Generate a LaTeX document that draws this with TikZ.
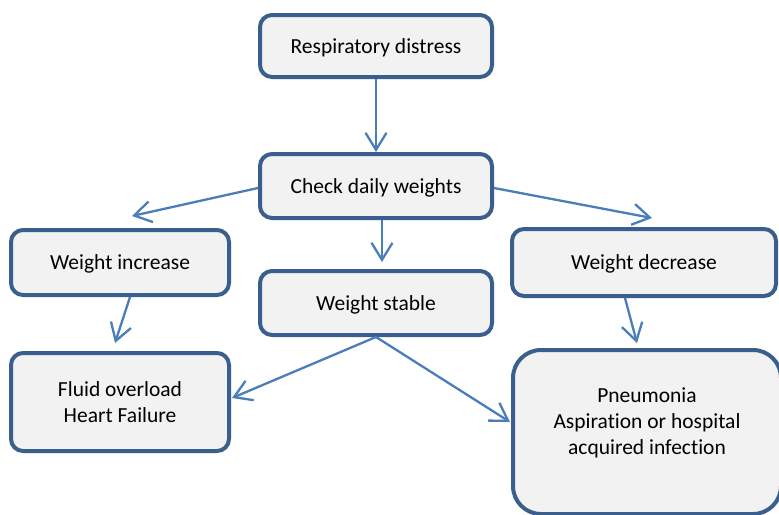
\documentclass[tikz,border=0pt]{standalone}
\usepackage{fontspec}
\setmainfont{Carlito}[Ligatures=NoCommon]
\usetikzlibrary{arrows.meta}
\definecolor{boxline}{HTML}{3A5F8E}
\definecolor{boxfill}{HTML}{F2F2F2}
\definecolor{arrowc}{HTML}{4A7EBB}
\begin{document}
\begin{tikzpicture}[x=1pt,y=-1pt,
  flowbox/.style={draw=boxline, fill=boxfill, line width=4pt, rounded corners=12pt,
    inner sep=0pt, align=center, font=\fontsize{21.5}{26}\selectfont},
  onebox/.style={flowbox, text depth=0pt},
  flowarrow/.style={draw=arrowc, line width=2.3pt, -{Straight Barb[length=17pt,width=21pt,line width=2.3pt]}},
  lbl/.style={inner sep=0pt, align=center, font=\fontsize{21.5}{26}\selectfont}]
\clip (0,0) rectangle (779,514);
\useasboundingbox (0,0) rectangle (779,514);
\fill[white] (0,0) rectangle (779,514);
\node[onebox, minimum width=232pt, minimum height=62pt] (R) at (376,46) {Respiratory distress};
\node[onebox, minimum width=232pt, minimum height=64pt] (C) at (376,186) {Check daily weights};
\node[onebox, minimum width=218pt, minimum height=65pt] (WI) at (120,262.5) {Weight increase};
\node[onebox, minimum width=232pt, minimum height=64pt] (WS) at (376,303) {Weight stable};
\node[onebox, minimum width=264pt, minimum height=67pt] (WD) at (644,262.5) {Weight decrease};
\node[flowbox, minimum width=218pt, minimum height=98pt] (F) at (120,402) {Fluid overload\\Heart Failure};
\node[flowbox, rounded corners=28pt, minimum width=268pt, minimum height=164pt] (P) at (647,432) {};
\node[lbl] (Ptext) at (647,423) {Pneumonia\\Aspiration or hospital\\acquired infection};
\coordinate (tWI) at (132,216);
\coordinate (tWS) at (382,262);
\coordinate (tWD) at (652,218);
\coordinate (tF1) at (115,343);
\coordinate (tP1) at (637,343);
\coordinate (tF2) at (232,398);
\coordinate (tP2) at (510,422);
\draw[flowarrow] (R.south) -- (C.north);
\draw[flowarrow] ([yshift=-2pt]C.west) -- (tWI);
\draw[flowarrow] ([xshift=6pt]C.south) -- (tWS);
\draw[flowarrow] ([yshift=-2pt]C.east) -- (tWD);
\draw[flowarrow] ([xshift=10pt]WI.south) -- (tF1);
\draw[flowarrow] ([xshift=-19pt]WD.south) -- (tP1);
\draw[flowarrow] (WS.south) -- (tF2);
\draw[flowarrow] (WS.south) -- (tP2);
\end{tikzpicture}
\end{document}
